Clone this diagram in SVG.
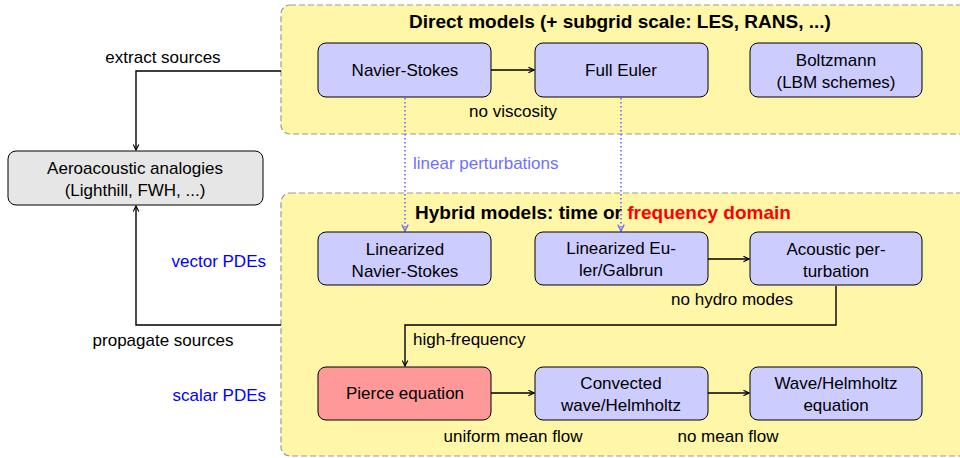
<svg xmlns="http://www.w3.org/2000/svg" width="960" height="458" viewBox="0 0 960 458">
<defs>
<style>
text{font-family:"Liberation Sans","DejaVu Sans",sans-serif;font-size:17px;fill:#000;}
.t{text-anchor:middle;}
.e{text-anchor:end;}
.b{font-weight:bold;font-size:19px;}
.panel{fill:#fff6a8;stroke:#999;stroke-width:1.2;stroke-dasharray:6 3;}
.node{fill:#ccccff;stroke:#000;stroke-width:1;}
.pierce{fill:#ff9999;stroke:#000;stroke-width:1;}
.gray{fill:#e6e6e6;stroke:#000;stroke-width:1;}
.edge{fill:none;stroke:#000;stroke-width:1.4;marker-end:url(#ah);}
.dot{fill:none;stroke:#6666ff;stroke-width:1.6;stroke-dasharray:1.5 2.5;marker-end:url(#ahb);}
.blue{fill:#0000ff;}
.lblue{fill:#6f6fff;}
.red{fill:#ff0000;}
</style>
<marker id="ah" viewBox="0 0 10 10" refX="9" refY="5" markerWidth="7" markerHeight="7" markerUnits="userSpaceOnUse" orient="auto"><path d="M1,1 L9,5 L1,9" fill="none" stroke="#000" stroke-width="1.6"/></marker>
<marker id="ahb" viewBox="0 0 10 10" refX="9" refY="5" markerWidth="8" markerHeight="8" markerUnits="userSpaceOnUse" orient="auto"><path d="M1,1 L9,5 L1,9" fill="none" stroke="#6666ff" stroke-width="1.6"/></marker>
</defs>
<g id="panel-direct">
<rect class="panel" x="281" y="5" width="700" height="129" rx="9"/>
<text class="t b" x="620" y="28">Direct models (+ subgrid scale: LES, RANS, ...)</text>
</g>
<g id="panel-hybrid">
<rect class="panel" x="281" y="193" width="700" height="263" rx="9"/>
<text class="t b" x="603" y="219">Hybrid models: time or <tspan class="red">frequency domain</tspan></text>
</g>
<g id="connectors">
<path class="edge" d="M491,70 H534"/>
<path class="edge" d="M708,259 H749"/>
<path class="edge" d="M491,393 H534"/>
<path class="edge" d="M708,393 H749"/>
<path class="edge" d="M836,286 V325 H405 V366"/>
<path class="edge" d="M281,71 H136 V150"/>
<path class="edge" d="M281,325 H136 V206"/>
<path class="dot" d="M405,98 V231"/>
<path class="dot" d="M621,98 V231"/>
<text class="t" x="513" y="117">no viscosity</text>
<text class="lblue" x="413" y="169">linear perturbations</text>
<text class="t" x="163" y="63">extract sources</text>
<text class="t" x="163" y="346">propagate sources</text>
<text class="t" x="732" y="305">no hydro modes</text>
<text x="413" y="345">high-frequency</text>
<text class="t" x="513" y="442">uniform mean flow</text>
<text class="t" x="728" y="442">no mean flow</text>
<text class="blue e" x="266" y="267">vector PDEs</text>
<text class="blue e" x="266" y="401">scalar PDEs</text>
</g>
<g id="navier-stokes"><rect class="node" x="318" y="43" width="173" height="54" rx="8"/><text class="t" x="405" y="76">Navier-Stokes</text></g>
<g id="full-euler"><rect class="node" x="535" y="43" width="173" height="54" rx="8"/><text class="t" x="621" y="76">Full Euler</text></g>
<g id="boltzmann"><rect class="node" x="750" y="43" width="172" height="54" rx="8"/><text class="t" x="836" y="66">Boltzmann</text><text class="t" x="836" y="88">(LBM schemes)</text></g>
<g id="aeroacoustic"><rect class="gray" x="8" y="151" width="255" height="54" rx="8"/><text class="t" x="135" y="174">Aeroacoustic analogies</text><text class="t" x="135" y="196">(Lighthill, FWH, ...)</text></g>
<g id="lin-ns"><rect class="node" x="318" y="232" width="173" height="53" rx="8"/><text class="t" x="405" y="255">Linearized</text><text class="t" x="405" y="277">Navier-Stokes</text></g>
<g id="lin-euler"><rect class="node" x="535" y="232" width="173" height="53" rx="8"/><text class="t" x="621" y="254">Linearized Eu-</text><text class="t" x="621" y="276">ler/Galbrun</text></g>
<g id="acoustic-pert"><rect class="node" x="750" y="232" width="172" height="53" rx="8"/><text class="t" x="836" y="255">Acoustic per-</text><text class="t" x="836" y="277">turbation</text></g>
<g id="pierce"><rect class="pierce" x="318" y="367" width="173" height="53" rx="8"/><text class="t" x="405" y="399">Pierce equation</text></g>
<g id="convected"><rect class="node" x="535" y="367" width="173" height="53" rx="8"/><text class="t" x="621" y="389">Convected</text><text class="t" x="621" y="411">wave/Helmholtz</text></g>
<g id="wave"><rect class="node" x="750" y="367" width="172" height="53" rx="8"/><text class="t" x="836" y="389">Wave/Helmholtz</text><text class="t" x="836" y="411">equation</text></g>
</svg>
